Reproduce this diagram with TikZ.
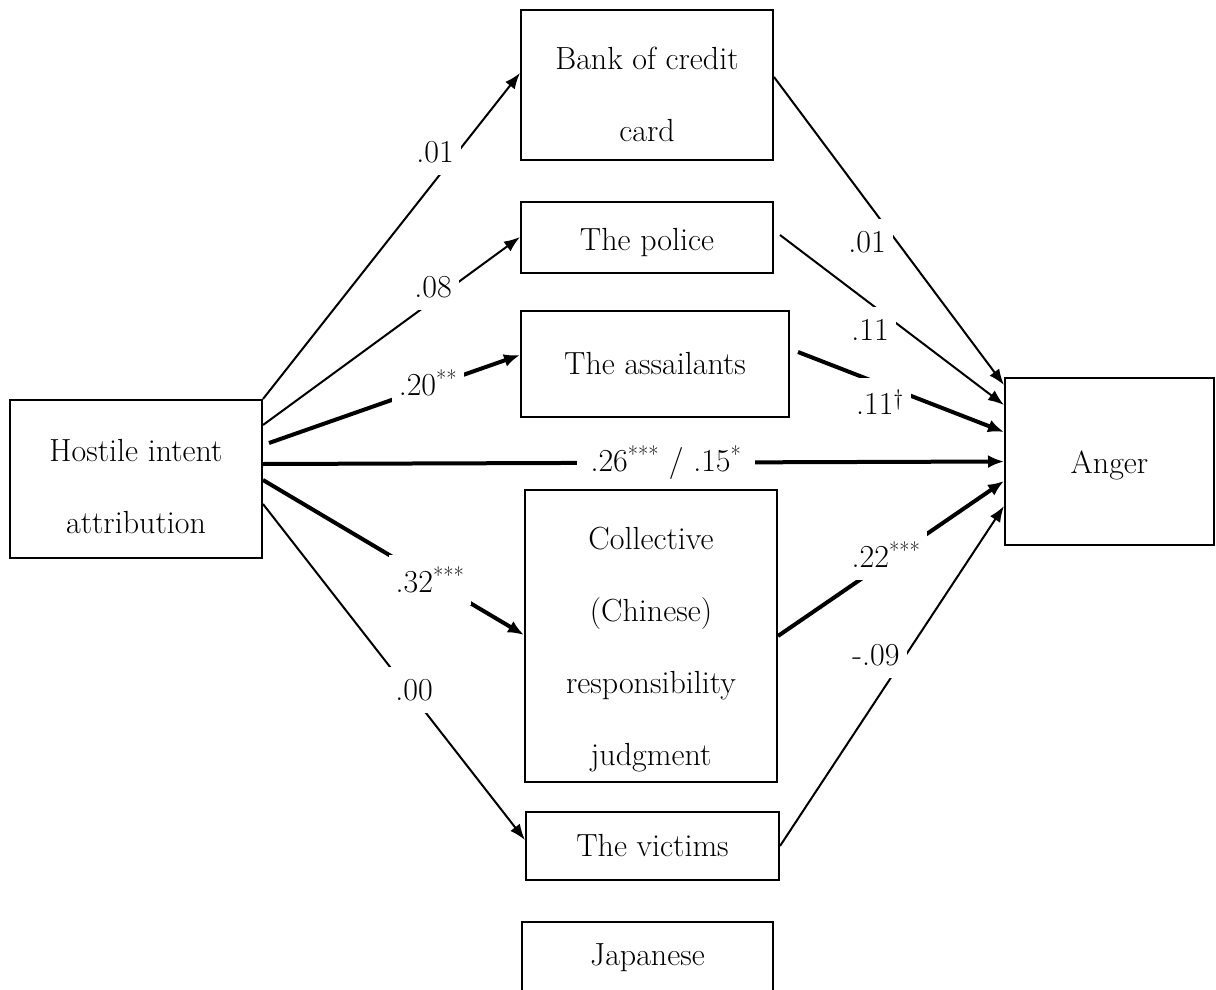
\documentclass[tikz,border=0pt]{standalone}
\usetikzlibrary{arrows.meta}
\newcommand{\lift}[1]{\rule{0pt}{#1}}
\begin{document}
\begin{tikzpicture}[x=1pt,y=-1pt,
  txt/.style={font=\fontsize{32}{72}\selectfont},
  var/.style={txt,draw,line width=2pt,align=center,inner sep=0pt},
  thin/.style={line width=2pt,-{Latex[length=16pt,width=12pt]}},
  thick/.style={line width=4pt,-{Latex[length=16pt,width=13pt]}},
  lab/.style={txt,fill=white,inner xsep=7pt,inner ysep=12pt}]
\useasboundingbox (0,0) rectangle (1216,990);
\clip (0,0) rectangle (1216,990);
% boxes
\node[var,minimum width=252pt,minimum height=158pt] (hostile) at (136,479) {\lift{38pt}Hostile intent\\attribution};
\node[var,minimum width=252pt,minimum height=150pt] (bank) at (647,85) {\lift{42pt}Bank of credit\\card};
\node[var,minimum width=252pt,minimum height=71pt] (police) at (647,237.5) {\lift{32pt}The police};
\node[var,minimum width=268pt,minimum height=106pt] (assail) at (655,364) {The assailants};
\node[var,minimum width=252pt,minimum height=292pt] (coll) at (651,636) {\lift{50pt}Collective\\(Chinese)\\responsibility\\judgment};
\node[var,minimum width=253pt,minimum height=68pt] (victims) at (652.5,846) {The victims};
\node[var,minimum width=251pt,minimum height=72pt] (japan) at (647.5,958) {Japanese};
\node[var,minimum width=209pt,minimum height=167pt] (anger) at (1109.5,461.5) {\lift{30pt}Anger};
% paths from hostile
\draw[thin] (hostile.north east) -- ([yshift=12pt]bank.west);
\draw[thin] ([yshift=54pt]hostile.east) -- ([yshift=0.5pt]police.west);
\draw[thick] ([xshift=6pt,yshift=36pt]hostile.east) -- ([yshift=9pt]assail.west);
\draw[thick] ([yshift=15pt]hostile.east) -- (anger.west);
\draw[thick] ([yshift=-1pt]hostile.east) -- ([yshift=1pt]coll.west);
\draw[thin] ([yshift=-25pt]hostile.east) -- ([yshift=6pt]victims.west);
% paths to anger
\draw[thin] ([yshift=8pt]bank.east) -- ([yshift=-8pt]anger.north west);
\draw[thin] ([xshift=6pt,yshift=2.5pt]police.east) -- ([yshift=56.5pt]anger.west);
\draw[thick] ([xshift=8pt,yshift=12pt]assail.east) -- ([yshift=29.5pt]anger.west);
\draw[thick] (coll.east) -- ([yshift=-19.5pt]anger.west);
\draw[thin] (victims.east) -- ([yshift=-44.5pt]anger.west);
% labels
\node[lab] (l1) at (435,152) {.01};
\node[lab] (l2) at (433,287) {.08};
\node[lab] (l3) at (428,383) {.20\textsuperscript{**}};
\node[lab,inner xsep=14pt,inner ysep=3pt] (l4) at (666,463) {.26\textsuperscript{***} / .15\textsuperscript{*}};
\node[lab] (l5) at (430,580) {.32\textsuperscript{***}};
\node[lab] (l6) at (414,690) {.00};
\node[lab] (r1) at (867,242) {.01};
\node[lab] (r2) at (870,330) {.11};
\node[lab] (r3) at (880,402) {.11\textsuperscript{\textdagger}};
\node[lab] (r4) at (886,555) {.22\textsuperscript{***}};
\node[lab] (r5) at (876,655) {-.09};
\end{tikzpicture}
\end{document}
